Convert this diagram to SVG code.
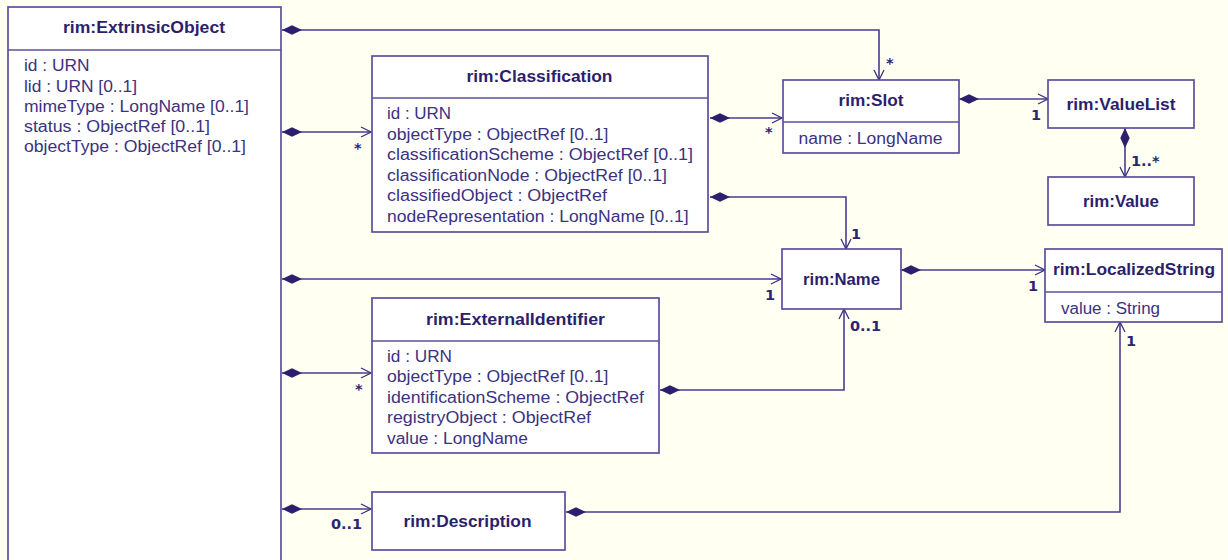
<svg xmlns="http://www.w3.org/2000/svg" width="1228" height="560" viewBox="0 0 1228 560">
<defs>
<style>
.box{fill:#ffffff;stroke:#5c4f9c;stroke-width:1.7}
.sep{stroke:#5c4f9c;stroke-width:1.4}
.h{font-family:"Liberation Sans",Arial,sans-serif;font-weight:bold;font-size:16px;fill:#2b1f6b;text-anchor:middle}
.a{font-family:"Liberation Sans",Arial,sans-serif;font-size:16px;fill:#3b3280}
.m{font-family:"DejaVu Sans",Verdana,sans-serif;font-weight:bold;font-size:14.5px;fill:#2e2470}
.c{fill:none;stroke:#4a3d8f;stroke-width:1.6;marker-start:url(#dia);marker-end:url(#arr)}
</style>
<marker id="dia" viewBox="0 -5 22 10" refX="0" refY="0" markerWidth="22" markerHeight="10" markerUnits="userSpaceOnUse" orient="auto">
<path d="M0,0 L10,-4.7 L20,0 L10,4.7 Z" fill="#2d1f6e"/>
</marker>
<marker id="arr" viewBox="-12 -7 13 14" refX="0" refY="0" markerWidth="13" markerHeight="14" markerUnits="userSpaceOnUse" orient="auto">
<path d="M-10,-5 L0,0 L-10,5" fill="none" stroke="#3d3085" stroke-width="1.3"/>
</marker>
</defs>
<rect width="1228" height="560" fill="#fffff2"/>

<g id="connectors">
<path class="c" d="M282,30 H879 V80"/>
<path class="c" d="M282,132 H371"/>
<path class="c" d="M710,118 H782"/>
<path class="c" d="M710,197 H846 V249"/>
<path class="c" d="M282,279 H781"/>
<path class="c" d="M959,99 H1048"/>
<path class="c" d="M1125,128 V177"/>
<path class="c" d="M901,270 H1045"/>
<path class="c" d="M282,373 H371"/>
<path class="c" d="M660,390 H844 V309"/>
<path class="c" d="M282,509 H371"/>
<path class="c" d="M566,512 H1120 V322"/>
<text class="m" x="886" y="68">*</text>
<text class="m" x="354" y="153">*</text>
<text class="m" x="765" y="137">*</text>
<text class="m" x="1031" y="120">1</text>
<text class="m" x="1131" y="166">1..*</text>
<text class="m" x="851" y="239">1</text>
<text class="m" x="765" y="300">1</text>
<text class="m" x="1028" y="291">1</text>
<text class="m" x="850" y="331">0..1</text>
<text class="m" x="1126" y="346">1</text>
<text class="m" x="355" y="394">*</text>
<text class="m" x="331" y="529">0..1</text>
</g>

<g id="ExtrinsicObject">
<rect class="box" x="8" y="7" width="273" height="600"/>
<line class="sep" x1="8" y1="50" x2="281" y2="50"/>
<text class="h" x="144" y="33" textLength="162" lengthAdjust="spacingAndGlyphs">rim:ExtrinsicObject</text>
<text class="a" x="24" y="71" textLength="65.5" lengthAdjust="spacingAndGlyphs">id : URN</text>
<text class="a" x="24" y="91.5" textLength="113" lengthAdjust="spacingAndGlyphs">lid : URN [0..1]</text>
<text class="a" x="24" y="111.5" textLength="225" lengthAdjust="spacingAndGlyphs">mimeType : LongName [0..1]</text>
<text class="a" x="24" y="131.5" textLength="186" lengthAdjust="spacingAndGlyphs">status : ObjectRef [0..1]</text>
<text class="a" x="24" y="151.5" textLength="222" lengthAdjust="spacingAndGlyphs">objectType : ObjectRef [0..1]</text>
</g>

<g id="Classification">
<rect class="box" x="372" y="56" width="336" height="176"/>
<line class="sep" x1="372" y1="98" x2="708" y2="98"/>
<text class="h" x="539.5" y="81.5" textLength="146" lengthAdjust="spacingAndGlyphs">rim:Classification</text>
<text class="a" x="387" y="119" textLength="64" lengthAdjust="spacingAndGlyphs">id : URN</text>
<text class="a" x="387" y="139.5" textLength="221.5" lengthAdjust="spacingAndGlyphs">objectType : ObjectRef [0..1]</text>
<text class="a" x="387" y="160" textLength="306" lengthAdjust="spacingAndGlyphs">classificationScheme : ObjectRef [0..1]</text>
<text class="a" x="387" y="180.5" textLength="280" lengthAdjust="spacingAndGlyphs">classificationNode : ObjectRef [0..1]</text>
<text class="a" x="387" y="201" textLength="220" lengthAdjust="spacingAndGlyphs">classifiedObject : ObjectRef</text>
<text class="a" x="387" y="221.5" textLength="301.5" lengthAdjust="spacingAndGlyphs">nodeRepresentation : LongName [0..1]</text>
</g>

<g id="Slot">
<rect class="box" x="783" y="80" width="176" height="73"/>
<line class="sep" x1="783" y1="122" x2="959" y2="122"/>
<text class="h" x="871" y="106" textLength="65" lengthAdjust="spacingAndGlyphs">rim:Slot</text>
<text class="a" x="798.5" y="143.5" textLength="144" lengthAdjust="spacingAndGlyphs">name : LongName</text>
</g>

<g id="ValueList">
<rect class="box" x="1048" y="80" width="146" height="48"/>
<text class="h" x="1121" y="110" textLength="109" lengthAdjust="spacingAndGlyphs">rim:ValueList</text>
</g>

<g id="Value">
<rect class="box" x="1048" y="177" width="146" height="48"/>
<text class="h" x="1121" y="206.5" textLength="76" lengthAdjust="spacingAndGlyphs">rim:Value</text>
</g>

<g id="Name">
<rect class="box" x="782" y="249" width="119" height="60"/>
<text class="h" x="841.5" y="285" textLength="77" lengthAdjust="spacingAndGlyphs">rim:Name</text>
</g>

<g id="LocalizedString">
<rect class="box" x="1045" y="249" width="177" height="73"/>
<line class="sep" x1="1045" y1="292" x2="1222" y2="292"/>
<text class="h" x="1134" y="275" textLength="162" lengthAdjust="spacingAndGlyphs">rim:LocalizedString</text>
<text class="a" x="1061" y="313.5" textLength="99" lengthAdjust="spacingAndGlyphs">value : String</text>
</g>

<g id="ExternalIdentifier">
<rect class="box" x="372" y="298" width="287" height="155"/>
<line class="sep" x1="372" y1="341" x2="659" y2="341"/>
<text class="h" x="515.5" y="324.5" textLength="179" lengthAdjust="spacingAndGlyphs">rim:ExternalIdentifier</text>
<text class="a" x="387" y="362" textLength="65" lengthAdjust="spacingAndGlyphs">id : URN</text>
<text class="a" x="387" y="382" textLength="221.5" lengthAdjust="spacingAndGlyphs">objectType : ObjectRef [0..1]</text>
<text class="a" x="387" y="402.5" textLength="257" lengthAdjust="spacingAndGlyphs">identificationScheme : ObjectRef</text>
<text class="a" x="387" y="423" textLength="204" lengthAdjust="spacingAndGlyphs">registryObject : ObjectRef</text>
<text class="a" x="387" y="443.5" textLength="141" lengthAdjust="spacingAndGlyphs">value : LongName</text>
</g>

<g id="Description">
<rect class="box" x="372" y="492" width="193" height="58"/>
<text class="h" x="467.5" y="527" textLength="128" lengthAdjust="spacingAndGlyphs">rim:Description</text>
</g>
</svg>
